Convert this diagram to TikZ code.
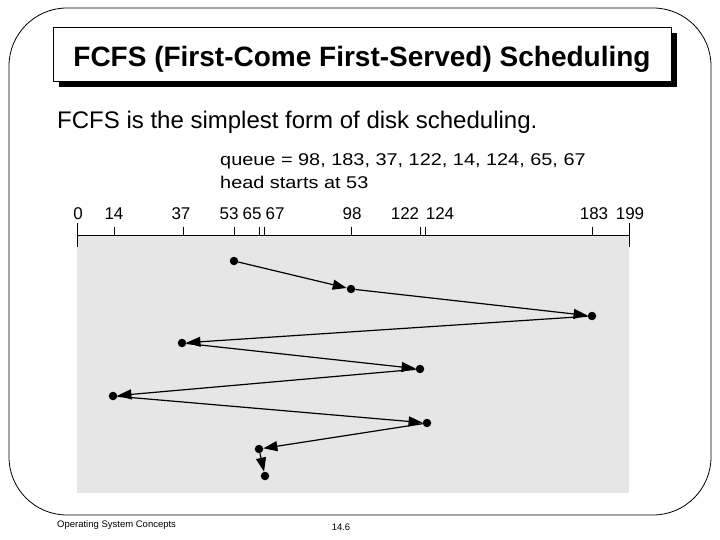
\documentclass[tikz,border=0pt]{standalone}
\usepackage{fontspec}
\setmainfont{Liberation Sans}
\newfontfamily\widesans[FakeStretch=1.17]{Liberation Sans}
\usetikzlibrary{arrows.meta}
\definecolor{graybg}{HTML}{E6E6E6}
\begin{document}
\begin{tikzpicture}[x=1pt,y=-1pt,
  dot/.style={circle,fill=black,inner sep=0pt,minimum size=8.5pt},
  arr/.style={-{Triangle[length=14pt,width=10pt]},line width=1.2pt},
  lbl/.style={font=\fontsize{17}{19}\selectfont,inner sep=0pt,anchor=base},
  tk/.style={line width=0.8pt}
]
\useasboundingbox (0,0) rectangle (720,540);
% outer frame
\draw[line width=0.8pt, rounded corners=58pt] (9,8) rectangle (711,515);
% title box with shadow
\fill (59,33) rectangle (677,87);
\draw[fill=white, line width=0.8pt] (53,27) rectangle (671,81);
\node[anchor=base, inner sep=0pt] (title) at (362,67)
  {\fontsize{28}{30}\selectfont\bfseries FCFS (First-Come First-Served) Scheduling};
% subtitle
\node[anchor=base west, inner sep=0pt] (sub) at (57,129)
  {\fontsize{24}{26}\selectfont FCFS is the simplest form of disk scheduling.};
% queue text
\node[anchor=base west, inner sep=0pt] (queue) at (220,166)
  {\widesans\fontsize{17}{19}\selectfont queue = 98, 183, 37, 122, 14, 124, 65, 67};
\node[anchor=base west, inner sep=0pt] (head) at (220,189)
  {\widesans\fontsize{17}{19}\selectfont head starts at 53};
% gray area and axis
\fill[graybg] (77,235) rectangle (629,493);
\draw[tk] (77,235) -- (629,235);
\draw[tk] (77,223) -- (77,247);
\draw[tk] (629,223) -- (629,247);
\foreach \xx in {114,183,234,259,264,351,420,425,592}
  \draw[tk] (\xx,227) -- (\xx,235);
\node[lbl] (l0) at (78,220) {0};
\node[lbl] (l14) at (114,220) {14};
\node[lbl] (l37) at (181,220) {37};
\node[lbl] (l53) at (229,220) {53};
\node[lbl] (l65) at (252,220) {65};
\node[lbl] (l67) at (275,220) {67};
\node[lbl] (l98) at (352,220) {98};
\node[lbl] (l122) at (405,220) {122};
\node[lbl] (l124) at (440,220) {124};
\node[lbl] (l183) at (594,220) {183};
\node[lbl] (l199) at (630,220) {199};
% head movement
\node[dot] (d1) at (234,261) {};
\node[dot] (d2) at (351,289) {};
\node[dot] (d3) at (592,316) {};
\node[dot] (d4) at (182,343) {};
\node[dot] (d5) at (420,369) {};
\node[dot] (d6) at (113,396) {};
\node[dot] (d7) at (427,423) {};
\node[dot] (d8) at (259,449) {};
\node[dot] (d9) at (265,476) {};
\draw[arr] (d1) -- (d2);
\draw[arr] (d2) -- (d3);
\draw[arr] (d3) -- (d4);
\draw[arr] (d4) -- (d5);
\draw[arr] (d5) -- (d6);
\draw[arr] (d6) -- (d7);
\draw[arr] (d7) -- (d8);
\draw[arr] (d8) -- (d9);
% footer
\node[anchor=base west, inner sep=0pt] (foot) at (57,527)
  {\fontsize{9.5}{11}\selectfont Operating System Concepts};
\node[anchor=base, inner sep=0pt] (page) at (341,530)
  {\fontsize{9.5}{11}\selectfont 14.6};
\end{tikzpicture}
\end{document}
